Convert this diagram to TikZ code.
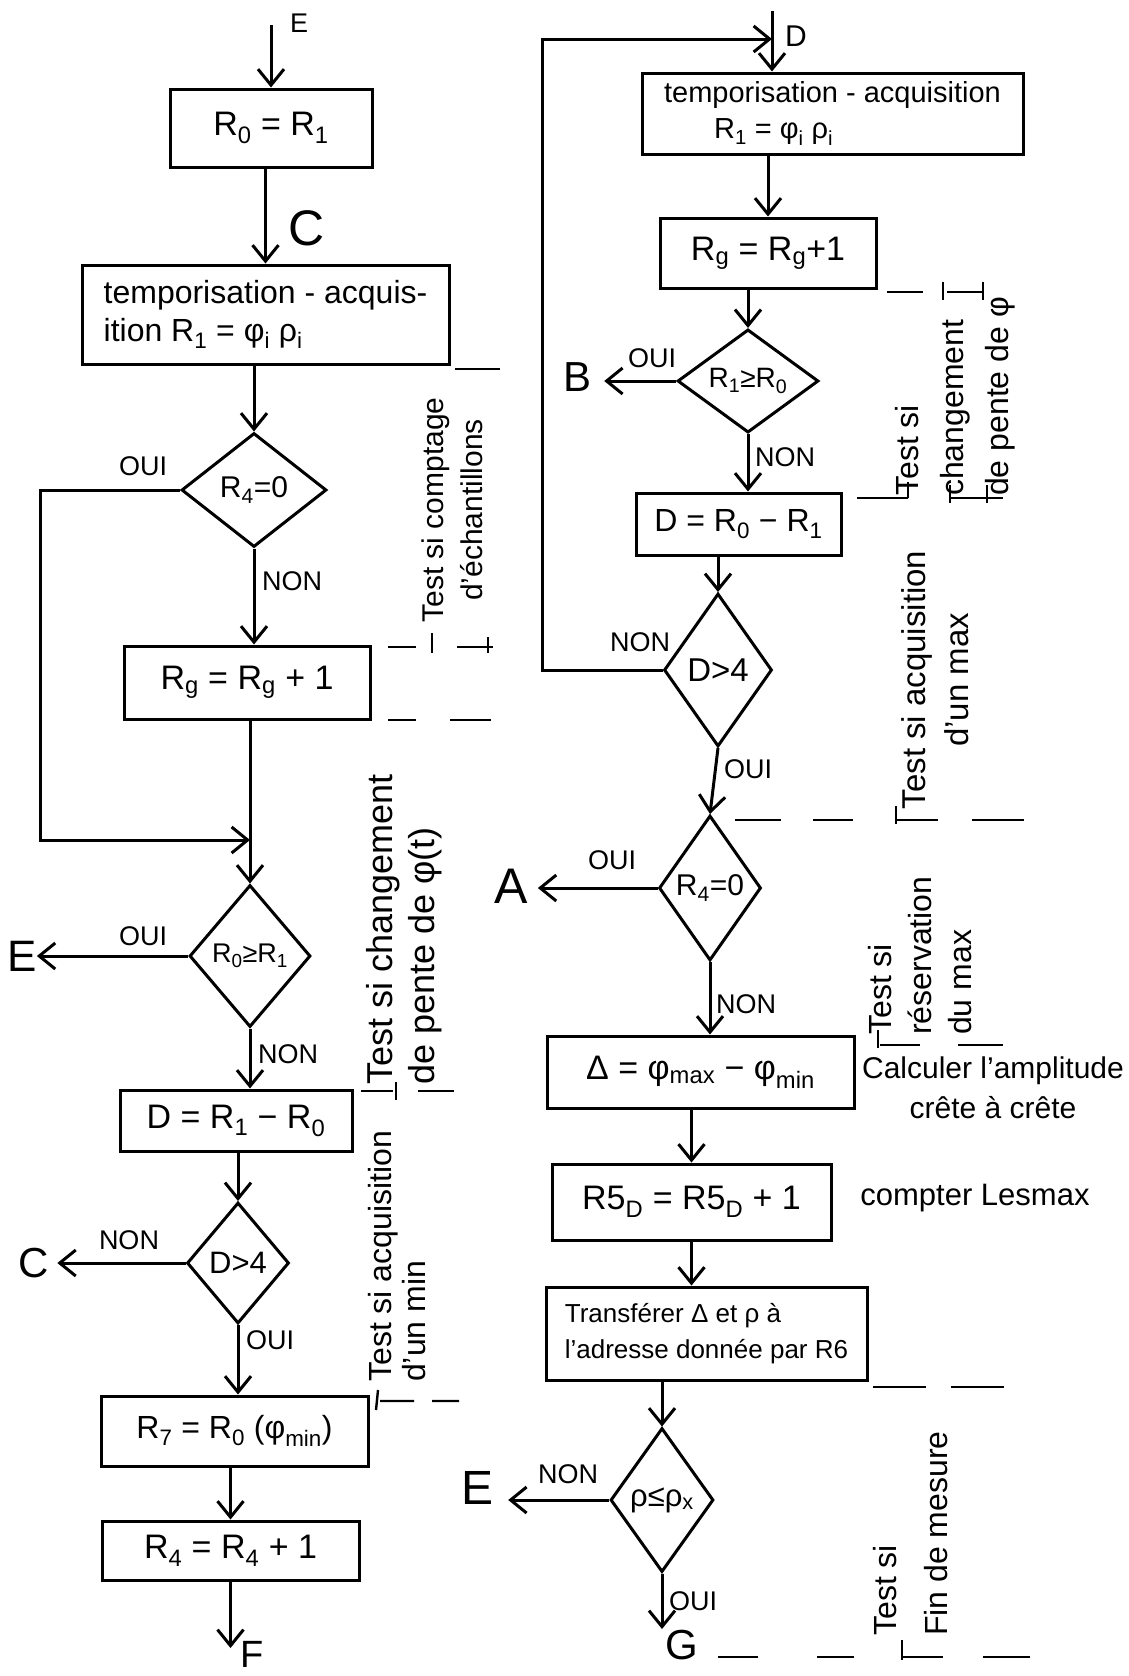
\documentclass[tikz,border=0pt]{standalone}
\usepackage{fontspec}
\setmainfont{Liberation Sans}
\usetikzlibrary{shapes.geometric,arrows.meta}
\newcommand{\lsub}[1]{\textsubscript{#1}}
\newcommand{\fs}[2]{\fontsize{#1}{#2}\selectfont}
\begin{document}
\begin{tikzpicture}[x=1pt,y=-1pt,
  every node/.style={inner sep=0pt, font=\fs{34}{40}},
  boxn/.style={draw, line width=3pt, inner sep=0pt},
  dian/.style={diamond, draw, line width=3pt, inner sep=0pt, font=\fs{30}{34}},
  arr/.style={line width=3pt, -{Straight Barb[length=16pt,width=26pt]}},
  sep/.style={line width=2.4pt},
  yn/.style={font=\fs{27}{30}},
  ann/.style={rotate=90},
  ]
\useasboundingbox (0,0) rectangle (1129,1676);
\fill[white] (0,0) rectangle (1129,1676);

% ---------------- left column ----------------
\node[boxn, minimum width=202pt, minimum height=78pt] (b1) at (271,128) {R\lsub{0} = R\lsub{1}};
\node[boxn, minimum width=367pt, minimum height=99pt, align=left, font=\fs{32}{38}] (b2) at (265.5,314.5)
  {temporisation - acquis-\\ition R\lsub{1} = φ\lsub{i} ρ\lsub{i}};
\node[dian, minimum width=145pt, minimum height=114pt] (d1) at (254,490) {R\lsub{4}=0};
\node[boxn, minimum width=246pt, minimum height=73pt] (b3) at (247,682.5) {R\lsub{g} = R\lsub{g} + 1};
\node[dian, minimum width=121pt, minimum height=142pt, font=\fs{27}{30}] (d2) at (250,956) {R\lsub{0}≥R\lsub{1}};
\node[boxn, minimum width=232pt, minimum height=61pt] (b4) at (236,1120.5) {D = R\lsub{1} − R\lsub{0}};
\node[dian, minimum width=102pt, minimum height=121pt, font=\fs{31}{34}] (d3) at (238,1263) {D>4};
\node[boxn, minimum width=267pt, minimum height=70pt, font=\fs{32}{38}] (b5) at (234.5,1431) {R\lsub{7} = R\lsub{0} (φ\lsub{min})};
\node[boxn, minimum width=257pt, minimum height=59pt] (b6) at (230.5,1550.5) {R\lsub{4} = R\lsub{4} + 1};

\coordinate (eTop) at (271,25);
\node[anchor=west, font=\fs{27}{30}] (lE1) at (290,23) {E};
\draw[arr] (eTop) -- (b1.north);
\draw[arr] (b1.south -| b2.north) -- (b2.north);
\node[anchor=west, font=\fs{50}{55}] (lC1) at (288,228) {C};
\draw[arr] (b2.south -| d1.north) -- (d1.north);
\draw[arr] (d1.south) -- (d1.south |- b3.north);
\node[yn, anchor=west] (n1) at (262,581) {NON};
\node[yn] (o1) at (143,466) {OUI};
\coordinate (loopL) at (40,840);
\draw[arr] (d1.west) -| (loopL) -- (loopL -| d2.north);
\draw[arr] (b3.south -| d2.north) -- (d2.north);
\node[font=\fs{44}{48}] (lE2) at (22,956) {E};
\draw[arr] (d2.west) -- (d2.west -| lE2.east);
\node[yn] (o2) at (143,936) {OUI};
\node[yn, anchor=west] (n2) at (258,1054) {NON};
\draw[arr] (d2.south) -- (d2.south |- b4.north);
\draw[arr] (b4.south -| d3.north) -- (d3.north);
\node[font=\fs{42}{46}] (lC2) at (34,1263) {C};
\draw[arr] (d3.west) -- ([xshift=8pt]d3.west -| lC2.east);
\node[yn] (n3) at (129,1240) {NON};
\node[yn, anchor=west] (o3) at (246,1340) {OUI};
\draw[arr] (d3.south) -- (d3.south |- b5.north);
\draw[arr] (b5.south -| b6.north) -- (b6.north);
\coordinate (fEnd) at (230.5,1648);
\draw[arr] (b6.south) -- (fEnd);
\node[anchor=west, font=\fs{38}{42}] (lF) at (240,1654) {F};

% ---------------- right column ----------------
\node[boxn, minimum width=381pt, minimum height=81pt, align=left, font=\fs{29}{36}] (r1) at (832.5,113.5)
  {temporisation - acquisition\\\hspace*{50pt}R\lsub{1} = φ\lsub{i} ρ\lsub{i}};
\node[boxn, minimum width=216pt, minimum height=70pt] (r2) at (768,253) {R\lsub{g} = R\lsub{g}+1};
\node[dian, minimum width=141pt, minimum height=91pt, font=\fs{28}{30}] (rd1) at (748,381) {R\lsub{1}≥R\lsub{0}};
\node[boxn, minimum width=205pt, minimum height=62pt, font=\fs{32}{38}] (r3) at (738.5,524) {D = R\lsub{0} − R\lsub{1}};
\node[dian, minimum width=108pt, minimum height=153pt, font=\fs{33}{36}] (rd2) at (718,670) {D>4};
\node[dian, minimum width=102pt, minimum height=145pt] (rd3) at (710,888) {R\lsub{4}=0};
\node[boxn, minimum width=307pt, minimum height=72pt] (r4) at (700.5,1072) {Δ = φ\lsub{max} − φ\lsub{min}};
\node[boxn, minimum width=279pt, minimum height=76pt] (r5) at (691.5,1202) {R5\lsub{D} = R5\lsub{D} + 1};
\node[boxn, minimum width=321pt, minimum height=93pt, align=left, font=\fs{26}{36}] (r6) at (706.5,1333.5)
  {Transférer Δ et ρ à\\l'adresse donnée par R6};
\node[dian, minimum width=103pt, minimum height=144pt, font=\fs{31}{34}] (rd4) at (662,1500) {ρ≤ρ\lsub{x}};

\coordinate (dIn) at (772,11);
\draw[arr] (dIn) -- (dIn |- r1.north);
\node[anchor=west, font=\fs{30}{34}] (lD) at (785,36) {D};
\coordinate (loopR) at (542,39);
\draw[arr] (rd2.west) -| (loopR) -- (loopR -| dIn);
\draw[arr] (r1.south -| r2.north) -- (r2.north);
\draw[arr] (r2.south -| rd1.north) -- (rd1.north);
\node[font=\fs{42}{46}] (lB) at (578,377) {B};
\draw[arr] (rd1.west) -- ([xshift=12pt]rd1.west -| lB.east);
\node[yn] (o4) at (652,358) {OUI};
\draw[arr] (rd1.south) -- (rd1.south |- r3.north);
\node[yn, anchor=west] (n4) at (755,457) {NON};
\draw[arr] (r3.south -| rd2.north) -- (rd2.north);
\node[yn] (n5) at (640,642) {NON};
\draw[arr] (rd2.south) -- (rd3.north);
\node[yn, anchor=west] (o5) at (724,769) {OUI};
\node[font=\fs{50}{55}] (lA) at (511,886) {A};
\draw[arr] (rd3.west) -- ([xshift=10pt]rd3.west -| lA.east);
\node[yn] (o6) at (612,860) {OUI};
\draw[arr] (rd3.south) -- (rd3.south |- r4.north);
\node[yn, anchor=west] (n6) at (716,1004) {NON};
\draw[arr] (r4.south -| r5.north) -- (r5.north);
\draw[arr] (r5.south) -- (r5.south |- r6.north);
\draw[arr] (r6.south -| rd4.north) -- (rd4.north);
\node[font=\fs{48}{52}] (lE3) at (478,1488) {E};
\draw[arr] (rd4.west) -- ([xshift=14pt]rd4.west -| lE3.east);
\node[yn] (n7) at (568,1474) {NON};
\coordinate (gEnd) at (662,1629);
\draw[arr] (rd4.south) -- (gEnd);
\node[yn, anchor=west] (o7) at (669,1601) {OUI};
\node[anchor=west, font=\fs{42}{46}] (lG) at (665,1645) {G};

% ---------------- side texts ----------------
\node[align=center, font=\fs{30}{40}] (tCalc) at (993,1088) {Calculer l'amplitude\\crête à crête};
\node[font=\fs{31}{36}] (tCompt) at (975,1198) {compter Lesmax};

% rotated annotations
\node[ann, align=center, font=\fs{30}{39}] (aL1) at (452,510) {Test si comptage\\d'échantillons};
\node[ann, align=left, anchor=north west, font=\fs{36}{42}] (aL2) at (366,1085) {Test si changement\\de pente de φ(t)};
\node[ann, align=left, anchor=north west, font=\fs{32}{34}] (aL3) at (368,1382) {Test si acquisition\\d'un min};
\node[ann, align=left, anchor=north west, font=\fs{32}{45}] (aR1) at (895,496) {Test si\\changement\\de pente de φ};
\node[ann, align=center, font=\fs{33}{43}] (aR2) at (935,680) {Test si acquisition\\d'un max};
\node[ann, align=left, anchor=north west, font=\fs{32}{40}] (aR3) at (868,1035) {Test si\\réservation\\du max};
\node[ann, align=left, anchor=north west, font=\fs{32}{51}] (aR4) at (873,1636) {Test si\\Fin de mesure};

% ---------------- separators ----------------
\draw[sep] (455,369) -- (500,369);
\draw[sep] (388,647) -- (416,647) (457,647) -- (493,647) (432,633) -- (432,653) (488,637) -- (488,653);
\draw[sep] (388,720) -- (416,720) (450,720) -- (491,720);
\draw[sep] (361,1091) -- (393,1091) (418,1091) -- (454,1091) (396,1082) -- (396,1100);
\draw[sep] (380,1401) -- (414,1401) (432,1401) -- (459,1401) (378,1390) -- (376,1410);
\draw[sep] (887,292) -- (923,292) (947,292) -- (983,292) (943,282) -- (943,300) (983,282) -- (983,300);
\draw[sep] (857,498) -- (908,498) (950,498) -- (1003,498) (908,482) -- (908,498) (950,485) -- (950,503) (987,485) -- (987,503);
\draw[sep] (735,820) -- (781,820) (813,820) -- (853,820) (896,820) -- (938,820) (972,820) -- (1024,820) (896,806) -- (896,824);
\draw[sep] (880,1045) -- (920,1045) (958,1045) -- (1003,1045) (878,1030) -- (878,1048);
\draw[sep] (873,1387) -- (926,1387) (951,1387) -- (1004,1387);
\draw[sep] (718,1657) -- (758,1657) (817,1657) -- (854,1657) (902,1657) -- (943,1657) (983,1657) -- (1030,1657) (902,1640) -- (902,1660);
\end{tikzpicture}
\end{document}
